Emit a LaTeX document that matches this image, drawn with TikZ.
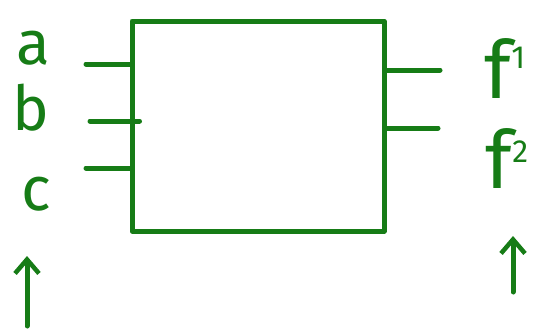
\documentclass[tikz,border=0pt]{standalone}
\usepackage{fontspec}
\setmainfont{Fira Sans}
\usetikzlibrary{arrows.meta}
\definecolor{pen}{RGB}{22,124,22}
\begin{document}
\begin{tikzpicture}[x=1pt,y=-1pt,
  pen/.style={draw=pen,line width=5pt,line cap=round,line join=round},
  lbl/.style={text=pen,font=\fontsize{62}{64}\selectfont,inner sep=0pt},
  flbl/.style={text=pen,font=\fontsize{80}{82}\selectfont,inner sep=0pt},
  uparrow/.style={pen,-{Straight Barb[length=14pt,width=24pt,line width=4.5pt]}}]
\useasboundingbox (0,0) rectangle (544,335);
\node[pen,minimum width=252pt,minimum height=210pt,inner sep=0pt,line cap=round] (box) at (258,126) {};
% inputs
\coordinate (ia) at (86,64);
\coordinate (ib) at (90,121);
\coordinate (ic) at (86,168);
\draw[pen] (ia) -- (ia -| box.west);
\draw[pen] (ib) -- ([xshift=10pt]ib -| box.west);
\draw[pen] (ic) -- (ic -| box.west);
% outputs
\coordinate (of1) at (440,70);
\coordinate (of2) at (438,128);
\draw[pen] (of1 -| box.east) -- (of1);
\draw[pen] (of2 -| box.east) -- (of2);
% labels
\node[lbl] (a) at (33,48) {a};
\node[lbl] (b) at (31,108) {b};
\node[lbl] (c) at (36,194) {c};
\node[flbl] (f1) at (505,68) {f\raisebox{30pt}{\fontsize{32}{34}\selectfont 1}};
\node[flbl] (f2) at (507,158) {f\raisebox{26pt}{\fontsize{32}{34}\selectfont 2}};
% arrows
\coordinate (la0) at (27,326);
\coordinate (la1) at (27,256);
\coordinate (ra0) at (513,292);
\coordinate (ra1) at (513,236);
\draw[uparrow] (la0) -- (la1);
\draw[uparrow] (ra0) -- (ra1);
\end{tikzpicture}
\end{document}
